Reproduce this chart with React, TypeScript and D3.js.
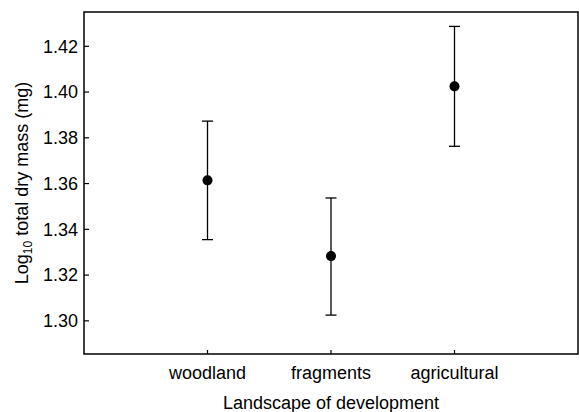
import * as d3 from 'd3'

// landscape categories and the mean ± error
const categories = ['woodland', 'fragments', 'agricultural']
const means = [1.3614, 1.3283, 1.4025]
const upper = [1.3873, 1.3537, 1.4287]
const lower = [1.3355, 1.3025, 1.3763]
const yTicks = [1.3, 1.32, 1.34, 1.36, 1.38, 1.4, 1.42]

const width = 579
const height = 412
const left = 84
const right = 578
const top = 12
const bottom = 354
const font = '"Liberation Sans", Arial, sans-serif'

export default function App() {
	const x = d3.scalePoint<string>().domain(categories).range([left, right]).padding(1)
	const y = d3.scaleLinear().domain([1.2855, 1.435]).range([bottom, top])

	return (
		<svg
			width={width}
			height={height}
			style={{ position: 'absolute', left: 0, top: 0, background: '#fff' }}
			fontFamily={font}
		>
			{/* рамка */}
			<rect x={left} y={top} width={right - left} height={bottom - top} fill="none" stroke="#000" strokeWidth={1.5} />

			{/* ось Y */}
			{yTicks.map((t) => (
				<g key={t}>
					<line x1={left} x2={left + 5} y1={y(t)} y2={y(t)} stroke="#000" strokeWidth={1.2} />
					<text x={left - 6} y={y(t)} dy="0.35em" textAnchor="end" fontSize={18} fill="#000">
						{t.toFixed(2)}
					</text>
				</g>
			))}

			{/* ось X */}
			{categories.map((c) => (
				<g key={c}>
					<line x1={x(c)} x2={x(c)} y1={bottom} y2={bottom - 4} stroke="#000" strokeWidth={1.2} />
					<text x={x(c)} y={379} textAnchor="middle" fontSize={18} fill="#000">
						{c}
					</text>
				</g>
			))}

			{/* усы и точки */}
			{categories.map((c, i) => {
				const cx = x(c) as number
				return (
					<g key={c}>
						<line x1={cx} x2={cx} y1={y(upper[i])} y2={y(lower[i])} stroke="#000" strokeWidth={1.3} />
						<line x1={cx - 5.5} x2={cx + 5.5} y1={y(upper[i])} y2={y(upper[i])} stroke="#000" strokeWidth={1.3} />
						<line x1={cx - 5.5} x2={cx + 5.5} y1={y(lower[i])} y2={y(lower[i])} stroke="#000" strokeWidth={1.3} />
						<circle cx={cx} cy={y(means[i])} r={5} fill="#000" />
					</g>
				)
			})}

			<text x={(left + right) / 2} y={409} textAnchor="middle" fontSize={18} fill="#000">
				Landscape of development
			</text>
			<text transform={`translate(27.5, ${(top + bottom) / 2}) rotate(-90)`} textAnchor="middle" fontSize={18} fill="#000">
				Log
				<tspan fontSize={12} dy={4}>10</tspan>
				<tspan dy={-4}> total dry mass (mg)</tspan>
			</text>
		</svg>
	)
}
